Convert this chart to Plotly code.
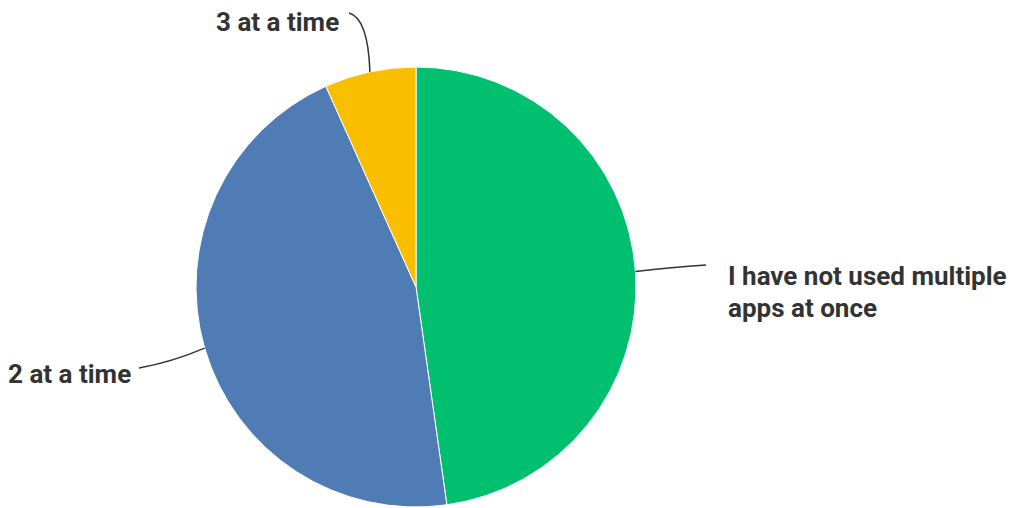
import math
import plotly.graph_objects as go

labels = ["I have not used multiple apps at once", "2 at a time", "3 at a time"]
counts = [64, 61, 9]
colors = ["#00BF6F", "#507CB6", "#F9BE00"]

W, H = 1021, 508
OFF = 8  # page body margin
CX, CY, R = 416 - OFF, 287 - OFF, 220

fig = go.Figure(go.Pie(
    labels=labels, values=counts, sort=False, direction="clockwise", rotation=0,
    marker=dict(colors=colors, line=dict(color="white", width=1)),
    textinfo="none", hoverinfo="label+percent", showlegend=False,
    domain=dict(x=[(CX - R) / W, (CX + R) / W], y=[(H - CY - R) / H, (H - CY + R) / H]),
))

def px(x): return (x - OFF) / W
def py(y): return (H - (y - OFF)) / H

# leader line end points and control points (reference pixel coords)
ends = [(706, 265), (139, 368), (349, 13)]
ctrls = [(672, 267), (172, 362), (368, 18)]
total = sum(counts)
cum = 0
shapes = []
for i, v in enumerate(counts):
    mid = (cum + v / 2) / total * 2 * math.pi
    cum += v
    sx, sy = 416 + R * math.sin(mid), 287 - R * math.cos(mid)
    ex, ey = ends[i]
    qx, qy = ctrls[i]
    shapes.append(dict(type="path", xref="paper", yref="paper",
                       path=f"M {px(sx)},{py(sy)} Q {px(qx)},{py(qy)} {px(ex)},{py(ey)}",
                       line=dict(color="#333333", width=1.5)))

font = dict(family="Roboto", size=26, color="#333333")
ann = [
    dict(text="<b>I have not used multiple</b>", x=px(726), y=py(276)),
    dict(text="<b>apps at once</b>", x=px(726), y=py(308)),
    dict(text="<b>2 at a time</b>", x=px(6), y=py(374)),
    dict(text="<b>3 at a time</b>", x=px(214), y=py(22)),
]
annotations = [dict(a, xref="paper", yref="paper", xanchor="left", yanchor="middle",
                    showarrow=False, font=font) for a in ann]

fig.update_layout(width=W, height=H, margin=dict(l=0, r=0, t=0, b=0),
                  paper_bgcolor="white", plot_bgcolor="white",
                  shapes=shapes, annotations=annotations)
fig.write_html("out.html")
